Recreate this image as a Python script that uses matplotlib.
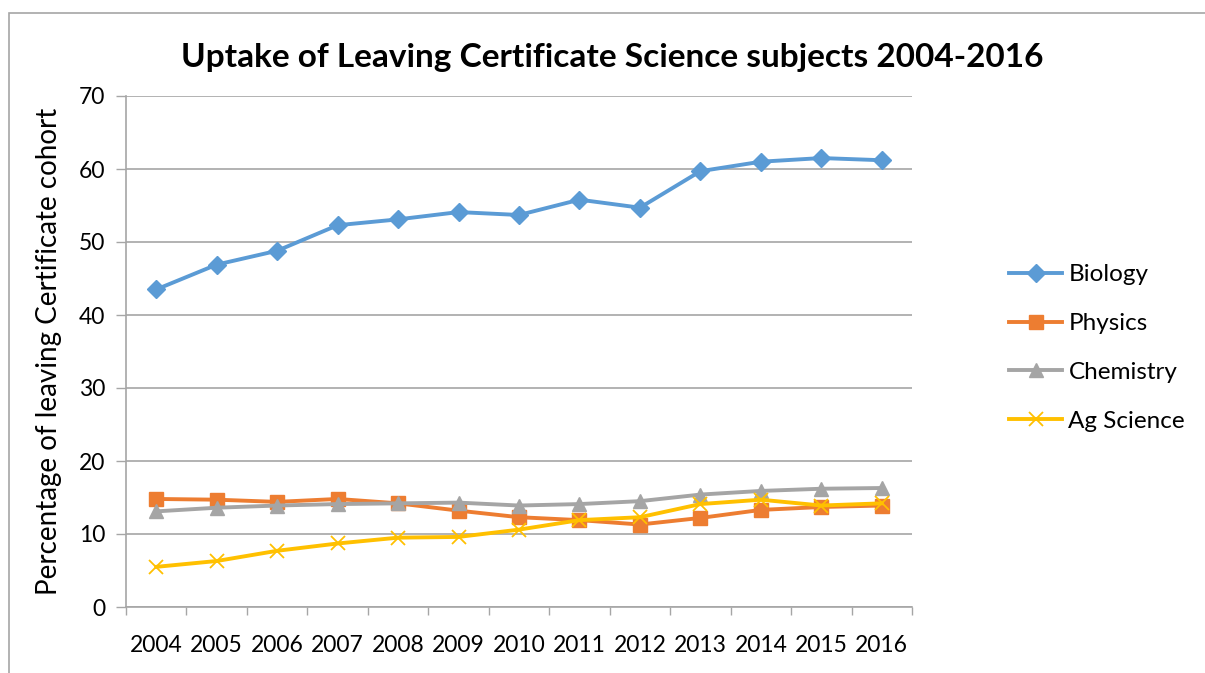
import matplotlib
matplotlib.use("Agg")
import matplotlib.pyplot as plt
from matplotlib.patches import Rectangle

years = ["2004", "2005", "2006", "2007", "2008", "2009", "2010",
         "2011", "2012", "2013", "2014", "2015", "2016"]
biology = [43.5, 46.9, 48.8, 52.3, 53.1, 54.1, 53.7, 55.8, 54.7, 59.7, 61.0, 61.5, 61.2]
physics = [14.8, 14.7, 14.4, 14.8, 14.2, 13.2, 12.3, 11.9, 11.3, 12.2, 13.3, 13.7, 13.9]
chemistry = [13.1, 13.6, 13.9, 14.1, 14.2, 14.3, 13.9, 14.1, 14.5, 15.4, 15.9, 16.2, 16.3]
ag_science = [5.5, 6.3, 7.7, 8.7, 9.5, 9.6, 10.6, 11.9, 12.3, 14.1, 14.7, 13.9, 14.2]

plt.rcParams['font.family'] = ['Lato', 'DejaVu Sans']

fig = plt.figure(figsize=(12.05, 6.73), dpi=100)
ax = fig.add_axes([126/1205, 1-607/673, (912-126)/1205, (607-96)/673])

# outer chart border
fig.patches.append(Rectangle((9/1205, -0.1), 1.2, 1.1 - 13/673, transform=fig.transFigure,
                             fill=False, edgecolor='#a6a6a6', linewidth=1.2))

x = list(range(len(years)))
lw = 2.8
ax.plot(x, biology, color='#5B9BD5', marker='D', markersize=9, linewidth=lw, label='Biology')
ax.plot(x, physics, color='#ED7D31', marker='s', markersize=9.5, linewidth=lw, label='Physics')
ax.plot(x, chemistry, color='#A5A5A5', marker='^', markersize=10.5, linewidth=lw, label='Chemistry')
ax.plot(x, ag_science, color='#FFC000', marker='x', markersize=10, markeredgewidth=1.3,
        linewidth=lw, label='Ag Science')

ax.set_xlim(-0.5, len(years) - 0.5)
ax.set_ylim(0, 70)
ax.set_yticks(range(0, 71, 10))
ax.set_xticks(x)
ax.set_xticklabels(years)
ax.set_xticks([i - 0.5 for i in range(len(years) + 1)], minor=True)
ax.tick_params(axis='x', which='major', length=0, labelsize=16.5, pad=20)
ax.tick_params(axis='x', which='minor', length=6, color='#a6a6a6', width=1)
ax.tick_params(axis='y', length=7, color='#a6a6a6', width=1, labelsize=16.5, pad=8)
ax.grid(axis='y', color='#a6a6a6', linewidth=1.2)
ax.set_axisbelow(True)
for s in ['top', 'right']:
    ax.spines[s].set_visible(False)
for s in ['left', 'bottom']:
    ax.spines[s].set_color('#a6a6a6')
    ax.spines[s].set_linewidth(1.2)

ax.set_ylabel('Percentage of leaving Certificate cohort', fontsize=20, labelpad=12)
fig.text(612/1205, 1-57/673, 'Uptake of Leaving Certificate Science subjects 2004-2016',
         ha='center', va='center', fontsize=24, fontweight='bold')

ax.legend(loc='center left', bbox_to_anchor=(987/1205, 1-348/673),
          bbox_transform=fig.transFigure, frameon=False, fontsize=17.5,
          labelspacing=1.15, handlelength=2.2, handletextpad=0.25)

fig.savefig('out.png', dpi=100)
